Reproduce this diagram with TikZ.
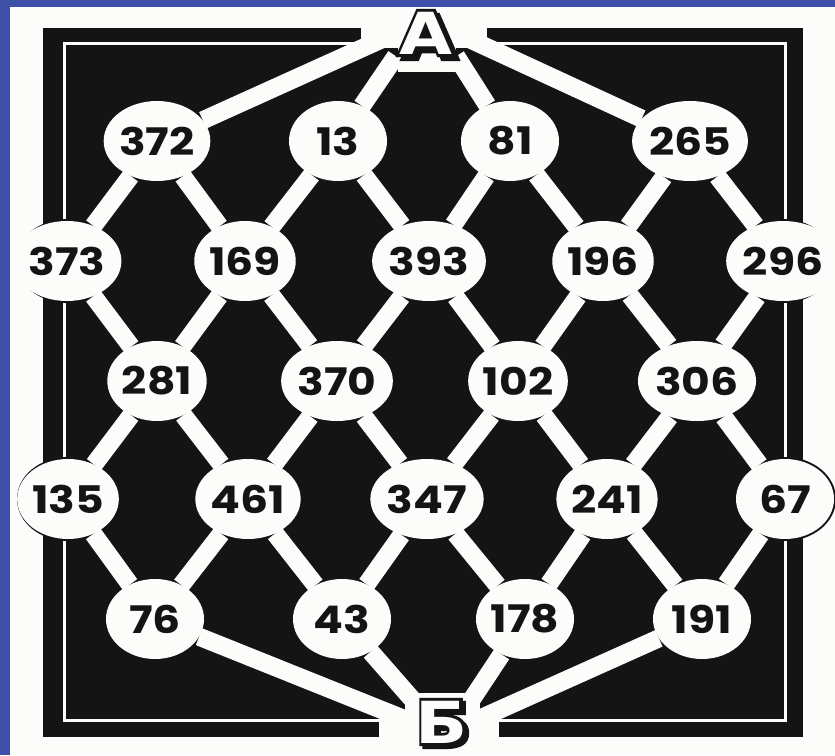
\documentclass[tikz,border=0pt]{standalone}
\usepackage{fontspec}
\usetikzlibrary{shapes.geometric,calc}
\newfontfamily\numfont{Poppins}[FakeStretch=1.16]
\newfontfamily\letfont{DejaVu Sans}[FakeStretch=1.18]
\newfontfamily\letout{DejaVu Sans}[FakeStretch=1.18, BoldFeatures={FakeBold=10}]
\definecolor{slideblue}{RGB}{60,80,168}
\definecolor{ink}{RGB}{20,20,20}
\definecolor{paper}{RGB}{252,252,250}
\pgfdeclarelayer{bg}
\pgfdeclarelayer{edges}
\pgfsetlayers{bg,edges,main}
\begin{document}
\begin{tikzpicture}[x=1pt,y=-1pt,
  numc/.style={ellipse, fill=paper, minimum width=98pt, minimum height=80pt, inner sep=0pt,
    font=\numfont\bfseries\fontsize{38}{38}\selectfont, text=ink},
  link/.style={draw=paper, line width=18pt},
  glyphbox/.style={inner sep=0pt, minimum width=60pt, minimum height=46pt},
  glyphout/.style={glyphbox, text=ink, font=\letout\bfseries\fontsize{58}{58}\selectfont},
  glyphin/.style={glyphbox, text=paper, font=\letfont\bfseries\fontsize{58}{58}\selectfont}]
\useasboundingbox (0,0) rectangle (835,755);
% nodes
\node[numc] (n372) at (157,141) {372};
\node[numc] (n13)  at (338,141) {13};
\node[numc] (n81)  at (510,141) {81};
\node[numc] (n265) at (690,141) {265};
\node[numc] (n373) at (67,261)  {373};
\node[numc] (n169) at (245,261) {169};
\node[numc] (n393) at (429,261) {393};
\node[numc] (n196) at (603,261) {196};
\node[numc] (n296) at (783,261) {296};
\node[numc] (n281) at (157,381) {281};
\node[numc] (n370) at (337,381) {370};
\node[numc] (n102) at (518,381) {102};
\node[numc] (n306) at (697,381) {306};
\node[numc] (n135) at (68,499)  {135};
\node[numc] (n461) at (248,499) {461};
\node[numc] (n347) at (427,499) {347};
\node[numc] (n241) at (607,499) {241};
\node[numc] (n67)  at (785,499) {67};
\node[numc] (n76)  at (155,619) {76};
\node[numc] (n43)  at (342,619) {43};
\node[numc] (n178) at (525,619) {178};
\node[numc] (n191) at (702,619) {191};
% letters (shadow, outline, face)
\node[glyphout] (Ash) at (430,37) {А};
\node[glyphout] (Aout) at (426,33) {А};
\node[glyphin] (A) at (426,33) {А};
\node[glyphout] (Bsh) at (445,725) {Б};
\node[glyphout] (Bout) at (442,722) {Б};
\node[glyphin] (B) at (442,722) {Б};
% background, frame
\begin{pgfonlayer}{bg}
\fill[slideblue] (0,0) rectangle (835,755);
\fill[paper] (10,7) rectangle (835,755);
\fill[ink] (43,28) rectangle (803,737);
\draw[paper, line width=3pt] (64,43) rectangle (785,720);
\fill[paper] (361,18) rectangle (487,48);
\fill[paper] (398,40) rectangle (456,72);
\fill[paper] (379,712) rectangle (499,746);
\fill[paper] (405,693) rectangle (480,712);
\foreach \n in {n373,n296,n135,n67}
  \draw[ink, line width=4pt, fill=paper] (\n.center) ellipse [x radius=49pt, y radius=40pt];
\end{pgfonlayer}
% connectors
\begin{pgfonlayer}{edges}
\foreach \a/\b in {A.west/n372, A.south west/n13, A.south east/n81, A.east/n265,
  n372/n373, n372/n169, n13/n169, n13/n393, n81/n393, n81/n196, n265/n196, n265/n296,
  n373/n281, n169/n281, n169/n370, n393/n370, n393/n102, n196/n102, n196/n306, n296/n306,
  n281/n135, n281/n461, n370/n461, n370/n347, n102/n347, n102/n241, n306/n241, n306/n67,
  n135/n76, n461/n76, n461/n43, n347/n43, n347/n178, n241/n178, n241/n191, n67/n191,
  n76/B.west, n43/B.north west, n178/B.north east, n191/B.east}
  \draw[link] (\a) -- (\b);
\end{pgfonlayer}
\end{tikzpicture}
\end{document}
